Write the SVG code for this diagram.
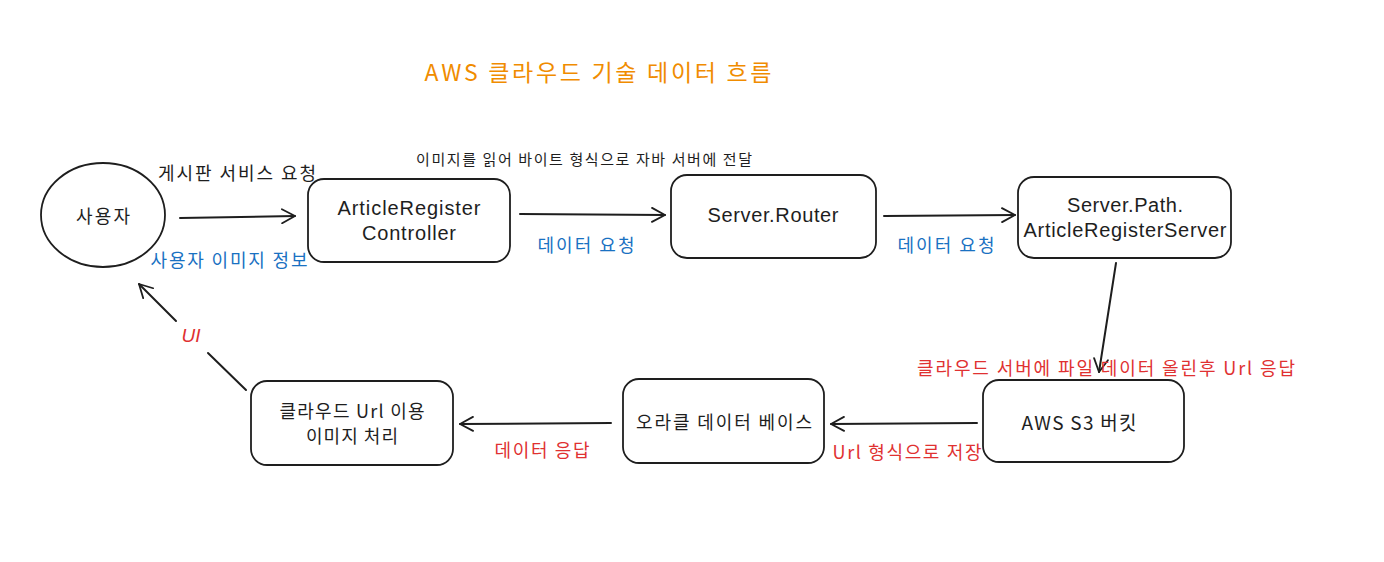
<svg xmlns="http://www.w3.org/2000/svg" width="1384" height="562" viewBox="0 0 1384 562">
<style>
.bg{fill:#ffffff}
.node{fill:none;stroke:#1e1e1e;stroke-width:1.8}
.t{font-family:"Liberation Sans","Noto Sans CJK KR",sans-serif;fill:#1e1e1e;text-anchor:middle;dominant-baseline:central}
.k{font-family:"Noto Sans CJK KR","Liberation Sans",sans-serif}
.blue{fill:#1971c2}
.red{fill:#e03131}
.orange{fill:#f08c00}
.edge{fill:none;stroke:#1e1e1e;stroke-width:2;stroke-linecap:round}
</style>
<defs>
<marker id="ah" markerWidth="16" markerHeight="16" refX="14" refY="8" orient="auto" markerUnits="userSpaceOnUse">
<path d="M1,1 L14,8 L1,15" fill="none" stroke="#1e1e1e" stroke-width="1.8" stroke-linecap="round" stroke-linejoin="round"/>
</marker>
</defs>
<rect class="bg" x="0" y="0" width="1384" height="562"/>

<g id="title">
<text class="t k orange" x="598" y="71" font-size="23" textLength="347" lengthAdjust="spacing">AWS 클라우드 기술 데이터 흐름</text>
</g>

<g id="connectors">
<path class="edge" d="M180,218 L295,216" marker-end="url(#ah)"/>
<path class="edge" d="M520,214 L665,215" marker-end="url(#ah)"/>
<path class="edge" d="M884,216 L1015,215" marker-end="url(#ah)"/>
<path class="edge" d="M1116,263 L1099,372" marker-end="url(#ah)"/>
<path class="edge" d="M977,423 L831,424" marker-end="url(#ah)"/>
<path class="edge" d="M611,423 L460,424" marker-end="url(#ah)"/>
<path class="edge" d="M246,390 L208,353"/>
<path class="edge" d="M176,321 L139,284" marker-end="url(#ah)"/>
</g>

<g id="edge-labels">
<text class="t k" x="237" y="172" font-size="18" textLength="158" lengthAdjust="spacing">게시판 서비스 요청</text>
<text class="t k blue" x="229" y="259" font-size="18" textLength="157" lengthAdjust="spacing">사용자 이미지 정보</text>
<text class="t k" x="584" y="158" font-size="15" textLength="336" lengthAdjust="spacing">이미지를 읽어 바이트 형식으로 자바 서버에 전달</text>
<text class="t k blue" x="586" y="244" font-size="18" textLength="97" lengthAdjust="spacing">데이터 요청</text>
<text class="t k blue" x="946" y="244" font-size="18" textLength="97" lengthAdjust="spacing">데이터 요청</text>
<text class="t k red" x="1106" y="367" font-size="18" textLength="378" lengthAdjust="spacing">클라우드 서버에 파일 데이터 올린후 Url 응답</text>
<text class="t k red" x="907" y="451" font-size="18" textLength="149" lengthAdjust="spacing">Url 형식으로 저장</text>
<text class="t k red" x="542" y="449" font-size="18" textLength="95" lengthAdjust="spacing">데이터 응답</text>
<text class="t red" x="191" y="335" font-size="19" font-style="italic">UI</text>
</g>

<g id="node-user">
<ellipse class="node" cx="103" cy="215" rx="62" ry="52"/>
<text class="t k" x="103" y="215" font-size="18" textLength="54" lengthAdjust="spacing">사용자</text>
</g>

<g id="node-controller">
<rect class="node" x="308" y="179" width="202" height="83" rx="16"/>
<text class="t" x="409" y="208" font-size="20" textLength="143" lengthAdjust="spacing">ArticleRegister</text>
<text class="t" x="409" y="233" font-size="20" textLength="94" lengthAdjust="spacing">Controller</text>
</g>

<g id="node-router">
<rect class="node" x="671" y="175" width="205" height="83" rx="16"/>
<text class="t" x="773" y="215" font-size="20" textLength="131" lengthAdjust="spacing">Server.Router</text>
</g>

<g id="node-server">
<rect class="node" x="1018" y="177" width="213" height="81" rx="16"/>
<text class="t" x="1125" y="205" font-size="20" textLength="116" lengthAdjust="spacing">Server.Path.</text>
<text class="t" x="1125" y="230" font-size="20" textLength="203" lengthAdjust="spacing">ArticleRegisterServer</text>
</g>

<g id="node-s3">
<rect class="node" x="983" y="380" width="201" height="82" rx="16"/>
<text class="t k" x="1079" y="421" font-size="19" textLength="115" lengthAdjust="spacing">AWS S3 버킷</text>
</g>

<g id="node-oracle">
<rect class="node" x="623" y="379" width="201" height="84" rx="16"/>
<text class="t k" x="724" y="421" font-size="18" textLength="176" lengthAdjust="spacing">오라클 데이터 베이스</text>
</g>

<g id="node-image">
<rect class="node" x="251" y="381" width="202" height="84" rx="16"/>
<text class="t k" x="352" y="410" font-size="18" textLength="145" lengthAdjust="spacing">클라우드 Url 이용</text>
<text class="t k" x="352" y="435" font-size="18" textLength="92" lengthAdjust="spacing">이미지 처리</text>
</g>
</svg>
